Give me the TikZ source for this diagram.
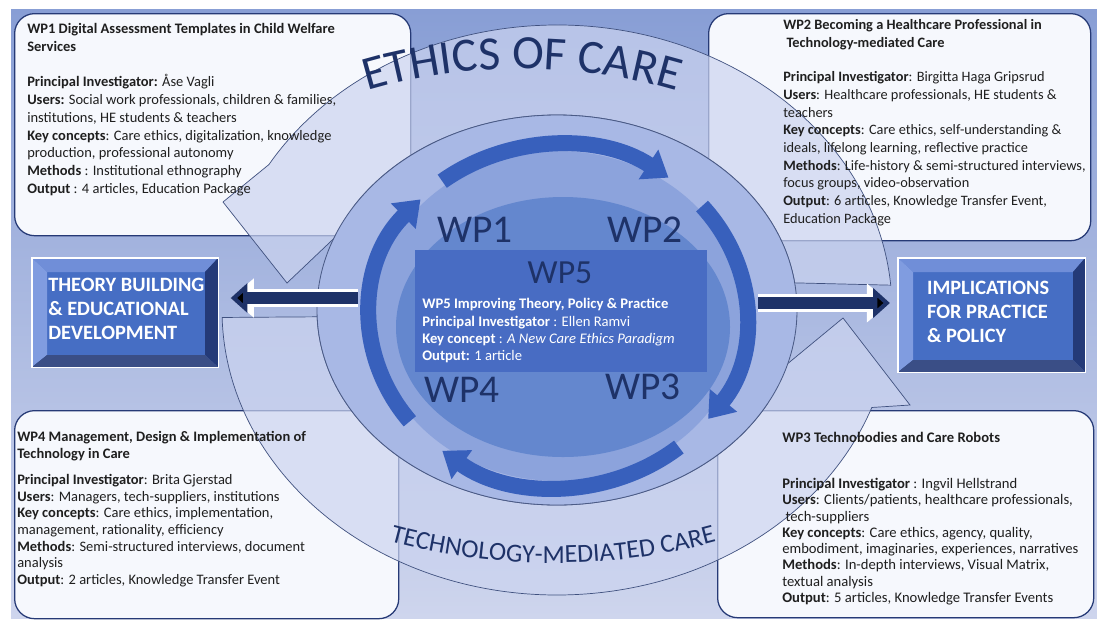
\documentclass[tikz,border=0pt]{standalone}
\usepackage{fontspec}
\setmainfont{Carlito}
\usepackage{tikz}
\usetikzlibrary{positioning}
\usetikzlibrary{arrows.meta}
\usetikzlibrary{calc}
\usetikzlibrary{decorations.text}
\usepackage{xcolor}

\definecolor{navy}{RGB}{30,50,104}
\definecolor{bgtop}{RGB}{136,158,213}
\definecolor{bgmid}{RGB}{196,205,233}
\definecolor{bgbot}{RGB}{206,213,237}
\definecolor{boxwhite}{RGB}{246,248,253}
\definecolor{boxline}{RGB}{38,58,118}
\definecolor{bandfill}{RGB}{204,212,240}
\definecolor{ringlight}{RGB}{168,184,229}
\definecolor{ringmid}{RGB}{140,163,220}
\definecolor{discblue}{RGB}{100,135,206}
\definecolor{wpfive}{RGB}{72,108,195}
\definecolor{arcblue}{RGB}{56,96,188}
\definecolor{facebl}{RGB}{70,110,196}
\definecolor{bevtop}{RGB}{112,142,216}
\definecolor{bevleft}{RGB}{128,156,224}
\definecolor{bevdark}{RGB}{36,58,120}

\tikzset{
  wpbox/.style={draw=boxline, line width=0.9pt, rounded corners=0.5cm, fill=boxwhite, anchor=north west, inner sep=0pt},
  wptext/.style={align=left, inner sep=0pt, anchor=north west, text=black!88},
  bigband/.style={fill=bandfill, fill opacity=0.7, draw=navy!85, line width=0.5pt},
  wparc/.style={draw=arcblue, line width=0.4cm, -{Triangle[length=0.6cm, width=0.85cm]}},
  wplabel/.style={text=navy, font=\fontsize{28}{28}\selectfont, inner sep=0pt},
  linkarrow/.style={draw=navy, line width=0.32cm, -{Triangle[length=0.42cm, width=0.72cm]},
    preaction={draw=white, line width=0.44cm, -{Triangle[length=0.58cm, width=0.94cm]}}},
  bevtext/.style={text=white, align=left, inner sep=0pt, font=\bfseries\fontsize{14.5}{17}\selectfont}
}

\begin{document}
\begin{tikzpicture}[x=0.025cm, y=-0.025cm]
\useasboundingbox (0,0) rectangle (1097,621);
\fill[white] (0,0) rectangle (1097,621);
\shade[top color=bgtop, middle color=bgmid, bottom color=bgbot] (11,9) rectangle (1097,618);

% work package boxes
\node[wpbox, minimum width=9.9cm, minimum height=5.55cm] (wp1box) at (14,13) {};
\node[wpbox, minimum width=9.55cm, minimum height=5.675cm] (wp2box) at (708,13) {};
\node[wpbox, minimum width=9.6cm, minimum height=5.2cm] (wp4box) at (14,410) {};
\node[wpbox, minimum width=9.4cm, minimum height=5.175cm] (wp3box) at (717,410) {};

% the two big curved arrows
\coordinate (bandc) at (557,310);
\filldraw[bigband] ($(bandc)+(-5:335 and 285)$) arc[start angle=-5, end angle=-149.3, x radius=335, y radius=285]
  -- (223,202) -- (287,283) -- (367,207)
  -- ($(bandc)+(-148:240 and 195)$) arc[start angle=-148, end angle=-8, x radius=240, y radius=195] -- cycle;
\filldraw[bigband] ($(bandc)+(-181.5:335 and 285)$) arc[start angle=-181.5, end angle=-340, x radius=335, y radius=285]
  -- (910,405) -- (843,318) -- (740,403)
  -- ($(bandc)+(-331:240 and 195)$) arc[start angle=-331, end angle=-182, x radius=240, y radius=195] -- cycle;

\coordinate (topc) at (522,312);
\path[decorate, decoration={text along path, text align=center, text color=navy,
  text={|\fontsize{34}{34}\selectfont|ETHICS OF CARE}}]
  ($(topc)+(-150:371 and 243)$) arc[start angle=-150, end angle=-30, x radius=371, y radius=243];
\coordinate (botc) at (553,310);
\path[decorate, decoration={text along path, text align=center, text color=navy,
  text={|\fontsize{18.5}{18.5}\selectfont|TECHNOLOGY-MEDIATED CARE}}]
  ($(botc)+(-218:405 and 253)$) arc[start angle=-218, end angle=-322, x radius=405, y radius=253];

% inner ring and disc
\filldraw[fill=ringlight, draw=navy!80, line width=0.6pt] (bandc) ellipse[x radius=240, y radius=195];
\coordinate (arcc) at (558,316);
\fill[ringmid] (arcc) ellipse[x radius=185, y radius=165];
\fill[discblue] (563,327) ellipse[x radius=167, y radius=130];

% cycle of the work packages
\draw[wparc] ($(arcc)+(-128:188 and 171)$) arc[start angle=-128, end angle=-54, x radius=188, y radius=171];
\draw[wparc] ($(arcc)+(-40:188 and 171)$) arc[start angle=-40, end angle=37, x radius=188, y radius=171];
\draw[wparc] ($(arcc)+(50:188 and 171)$) arc[start angle=50, end angle=128, x radius=188, y radius=171];
\draw[wparc] ($(arcc)+(-218:188 and 171)$) arc[start angle=-218, end angle=-137, x radius=188, y radius=171];

\node[fill=wpfive, minimum width=7.3cm, minimum height=3.05cm, anchor=north west, inner sep=0pt] (wpfive) at (415,250) {};
\node[wplabel] (wp1) at (475,230) {WP1};
\node[wplabel] (wp2) at (645,230) {WP2};
\node[wplabel] (wp4) at (462,390) {WP4};
\node[wplabel] (wp3) at (643,387) {WP3};
\node[wplabel, font=\fontsize{24}{24}\selectfont] (wp5) at (560,273) {WP5};
\node[wptext, text=white, font=\fontsize{10.4}{12.4}\selectfont] (wp5txt) at (422,298)
  {\textbf{WP5 Improving Theory, Policy \& Practice}\\
   \textbf{Principal Investigator} : Ellen Ramvi\\
   \textbf{Key concept} : \textit{A New Care Ethics Paradigm}\\
   \textbf{Output:} 1 article};

% outcome boxes
\node[fill=facebl, minimum width=4.65cm, minimum height=2.725cm, anchor=north west, inner sep=0pt] (theory) at (32,258) {};
\fill[bevtop] (32,258) -- (218,258) -- (205,272) -- (47,272) -- cycle;
\fill[bevleft] (32,258) -- (47,272) -- (47,355) -- (32,367) -- cycle;
\fill[bevdark] (218,258) -- (218,367) -- (205,355) -- (205,272) -- cycle;
\fill[bevdark!90!white] (32,367) -- (218,367) -- (205,355) -- (47,355) -- cycle;
\draw[white, line width=1pt] (theory.north west) rectangle (theory.south east);
\node[bevtext, below right=0.5cm and 0.4cm of theory.north west] (theorytxt) {THEORY BUILDING\\\& EDUCATIONAL\\DEVELOPMENT};

\node[fill=facebl, minimum width=4.675cm, minimum height=2.85cm, anchor=north west, inner sep=0pt] (impl) at (898,258) {};
\fill[bevtop] (898,258) -- (1085,258) -- (1073,272) -- (913,272) -- cycle;
\fill[bevleft] (898,258) -- (913,272) -- (913,360) -- (898,372) -- cycle;
\fill[bevdark] (1085,258) -- (1085,372) -- (1073,360) -- (1073,272) -- cycle;
\fill[bevdark!90!white] (898,372) -- (1085,372) -- (1073,360) -- (913,360) -- cycle;
\draw[white, line width=1pt] (impl.north west) rectangle (impl.south east);
\node[bevtext, below right=0.58cm and 0.72cm of impl.north west] (impltxt) {IMPLICATIONS\\FOR PRACTICE\\\& POLICY};

\coordinate (ringW) at (358,298);
\coordinate (ringE) at (758,303);
\draw[linkarrow, shorten >=0.3cm] (ringW) -- (theory.east |- ringW);
\draw[linkarrow, shorten >=0.2cm] (ringE) -- (impl.west |- ringE);

% texts of the work packages
\node[wptext, font=\fontsize{10.3}{12.76}\selectfont] (wp1txt) at (27,23)
  {\textbf{WP1 Digital Assessment Templates in Child Welfare}\\
   \textbf{Services}\\[12pt]
   \textbf{Principal Investigator:} Åse Vagli\\
   \textbf{Users:} Social work professionals, children \& families,\\
   institutions, HE students \& teachers\\
   \textbf{Key concepts}: Care ethics, digitalization, knowledge\\
   production, professional autonomy\\
   \textbf{Methods} : Institutional ethnography\\
   \textbf{Output} : 4 articles, Education Package};
\node[wptext, font=\fontsize{10.2}{12.6}\selectfont] (wp2txt) at (783,19)
  {\textbf{WP2 Becoming a Healthcare Professional in}\\
   \textbf{\ Technology-mediated Care}\\[12pt]
   \textbf{Principal Investigator}: Birgitta Haga Gripsrud\\
   \textbf{Users}: Healthcare professionals, HE students \&\\
   teachers\\
   \textbf{Key concepts}: Care ethics, self-understanding \&\\
   ideals, lifelong learning, reflective practice\\
   \textbf{Methods}: Life-history \& semi-structured interviews,\\
   focus groups, video-observation\\
   \textbf{Output}: 6 articles, Knowledge Transfer Event,\\
   Education Package};
\node[wptext, font=\fontsize{10.3}{11.85}\selectfont] (wp4txt) at (17,431)
  {\textbf{WP4 Management, Design \& Implementation of}\\
   \textbf{Technology in Care}\\[7pt]
   \textbf{Principal Investigator}: Brita Gjerstad\\
   \textbf{Users}: Managers, tech-suppliers, institutions\\
   \textbf{Key concepts}: Care ethics, implementation,\\
   management, rationality, efficiency\\
   \textbf{Methods}: Semi-structured interviews, document\\
   analysis\\
   \textbf{Output}: 2 articles, Knowledge Transfer Event};
\node[wptext, font=\fontsize{10.4}{11.6}\selectfont] (wp3txt) at (782,432)
  {\textbf{WP3 Technobodies and Care Robots}\\[21pt]
   \textbf{Principal Investigator} : Ingvil Hellstrand\\
   \textbf{Users}: Clients/patients, healthcare professionals,\\
   \ tech-suppliers\\
   \textbf{Key concepts}: Care ethics, agency, quality,\\
   embodiment, imaginaries, experiences, narratives\\
   \textbf{Methods}: In-depth interviews, Visual Matrix,\\
   textual analysis\\
   \textbf{Output}: 5 articles, Knowledge Transfer Events};
\end{tikzpicture}
\end{document}
